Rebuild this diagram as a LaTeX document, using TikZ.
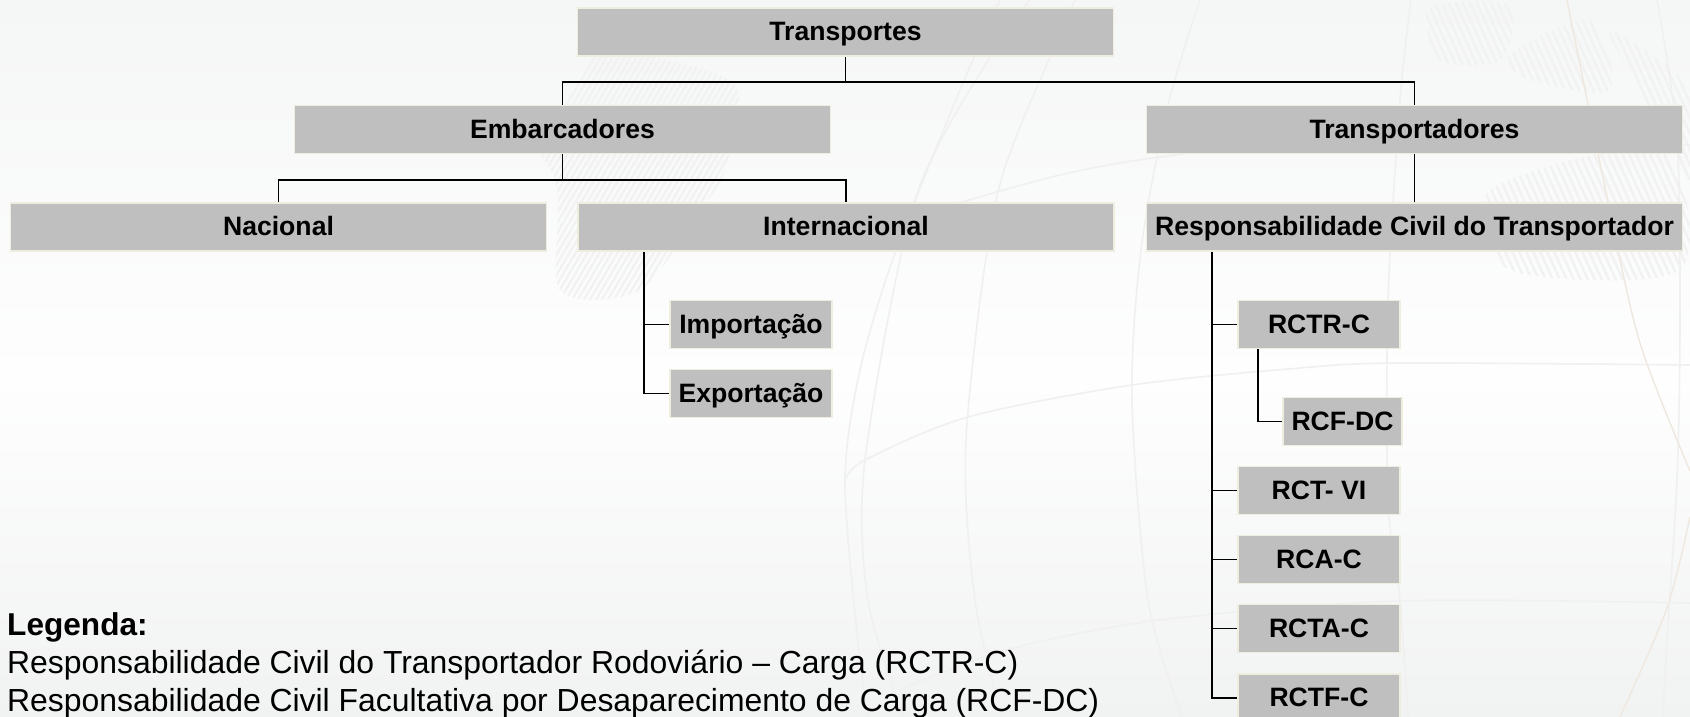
\documentclass[tikz,border=0pt]{standalone}
\usepackage{fontspec}
\usetikzlibrary{backgrounds}
\setmainfont{Liberation Sans}
\definecolor{boxfill}{HTML}{BFBFBF}
\definecolor{boxedge}{HTML}{EEEDE0}
\definecolor{bgtop}{HTML}{F5F6F6}
\definecolor{bgmid}{HTML}{FEFEFE}
\definecolor{bgbot}{HTML}{F1F2F2}
\definecolor{grat}{HTML}{F0F0F0}
\definecolor{gratw}{HTML}{EFE8DF}
\definecolor{hatch}{HTML}{F2F2F2}
\tikzset{
  orgbox/.style={rectangle,fill=boxfill,draw=boxedge,line width=1.4pt,inner sep=0pt,
    minimum height=48pt,text height=19pt,text depth=2pt,text=black,
    font=\fontsize{26.6}{30}\selectfont\bfseries},
  widebox/.style={orgbox,minimum width=536pt},
  smallbox/.style={orgbox,minimum width=162pt},
  conn/.style={draw=black,line width=1.9pt},
  graticule/.style={draw=grat,line width=1.6pt},
  warmline/.style={draw=gratw,line width=1.4pt},
  legendtext/.style={anchor=base west,inner sep=0pt,text=black,font=\fontsize{31.9}{34}\selectfont},
}
\begin{document}
\begin{tikzpicture}[x=1pt,y=-1pt]
\useasboundingbox (0,0) rectangle (1690,717);
\begin{pgfonlayer}{background}
% background
\fill[top color=bgtop,bottom color=bgmid] (0,0) rectangle (1690,380);
\fill[top color=bgmid,bottom color=bgbot] (0,380) rectangle (1690,717);
% faint map hatching
\begin{scope}
  \clip plot[smooth cycle] coordinates {(470,0) (610,0) (640,50) (735,85) (725,170) (700,210) (640,290) (560,290) (555,180) (490,90)};
  \foreach \k in {0,6,...,480} \draw[hatch,line width=2.4pt] (440+\k,320) -- (640+\k,-20);
\end{scope}
\begin{scope}
  \clip plot[smooth cycle] coordinates {(1430,8) (1510,5) (1500,60) (1440,60)}
        plot[smooth cycle] coordinates {(1510,55) (1590,20) (1610,90) (1530,80)}
        plot[smooth cycle] coordinates {(1610,30) (1690,90) (1690,180) (1640,90)}
        plot[smooth cycle] coordinates {(1490,190) (1660,150) (1680,270) (1510,270)};
  \foreach \k in {0,7,...,420} \draw[hatch,line width=2.4pt] (1380+\k,-10) -- (1520+\k,300);
\end{scope}
% meridians
\draw[graticule] plot[smooth] coordinates {(1000,0) (960,90) (895,253) (860,370) (845,480) (857,633) (868,717)};
\draw[graticule] plot[smooth] coordinates {(1030,0) (990,57) (915,200) (865,460) (868,600) (903,717)};
\draw[graticule] plot[smooth] coordinates {(1075,0) (1050,57) (996,200) (966,440) (975,600) (1002,717)};
\draw[graticule] plot[smooth] coordinates {(1200,0) (1168,105) (1141,250) (1132,400) (1148,600) (1182,717)};
\draw[graticule] plot[smooth] coordinates {(1411,0) (1400,100) (1388,300) (1388,500) (1400,600) (1408,717)};
\draw[graticule] plot[smooth] coordinates {(1657,0) (1677,137) (1680,320) (1677,480) (1667,640) (1663,717)};
\draw[warmline] plot[smooth] coordinates {(1567,0) (1607,197) (1640,343) (1690,471)};
\draw[warmline] plot[smooth] coordinates {(1690,517) (1667,608) (1620,717)};
% parallels
\draw[graticule] plot[smooth] coordinates {(945,207) (1060,175) (1168,156) (1400,132) (1690,145)};
\draw[graticule] plot[smooth] coordinates {(845,480) (865,460) (968,417) (1132,385) (1300,368) (1400,363) (1690,365)};
\draw[graticule] plot[smooth] coordinates {(899,690) (1006,650) (1159,620) (1400,601) (1690,603)};
\end{pgfonlayer}
% boxes
\node[widebox] (transportes) at (845.5,32) {Transportes};
\node[widebox] (embarcadores) at (562.5,129.5) {Embarcadores};
\node[widebox] (transportadores) at (1414.5,129.5) {Transportadores};
\node[widebox] (nacional) at (278.5,227) {Nacional};
\node[widebox] (internacional) at (846,227) {Internacional};
\node[widebox] (rct) at (1414.5,227) {Responsabilidade Civil do Transportador};
\node[smallbox] (importacao) at (751,324.5) {Importação};
\node[smallbox] (exportacao) at (751,393.5) {Exportação};
\node[smallbox] (rctrc) at (1319,324.5) {RCTR-C};
\node[orgbox,minimum width=119pt] (rcfdc) at (1342.5,421.5) {RCF-DC};
\node[smallbox] (rctvi) at (1319,490.5) {RCT- VI};
\node[smallbox] (rcac) at (1319,559.5) {RCA-C};
\node[smallbox] (rctac) at (1319,628.5) {RCTA-C};
\node[smallbox] (rctfc) at (1319,698) {RCTF-C};
% connector helpers
\coordinate (busa) at (0,82);
\coordinate (busb) at (0,180);
\coordinate (trunki) at (644,252);
\coordinate (trunkr) at (1212,252);
\coordinate (trunks) at (1258,349);
% connectors
\begin{pgfonlayer}{background}
\draw[conn] (transportes.south) -- (transportes.south |- busa);
\draw[conn] (embarcadores.north) |- (transportadores.north |- busa) -- (transportadores.north);
\draw[conn] (embarcadores.south) -- (embarcadores.south |- busb);
\draw[conn] (nacional.north) |- (internacional.north |- busb) -- (internacional.north);
\draw[conn] (transportadores.south) -- (rct.north);
\draw[conn] (trunki) |- (exportacao.west);
\draw[conn] (trunki |- importacao.west) -- (importacao.west);
\draw[conn] (trunkr) |- (rctfc.west);
\draw[conn] (trunkr |- rctrc.west) -- (rctrc.west);
\draw[conn] (trunkr |- rctvi.west) -- (rctvi.west);
\draw[conn] (trunkr |- rcac.west) -- (rcac.west);
\draw[conn] (trunkr |- rctac.west) -- (rctac.west);
\draw[conn] (trunks) |- (rcfdc.west);
\end{pgfonlayer}
% legend
\node[legendtext,font=\fontsize{31.6}{34}\selectfont\bfseries] (legenda) at (7,635) {Legenda:};
\node[legendtext] (legone) at (7,673) {Responsabilidade Civil do Transportador Rodoviário – Carga (RCTR-C)};
\node[legendtext] (legtwo) at (7,711) {Responsabilidade Civil Facultativa por Desaparecimento de Carga (RCF-DC)};
\end{tikzpicture}
\end{document}
